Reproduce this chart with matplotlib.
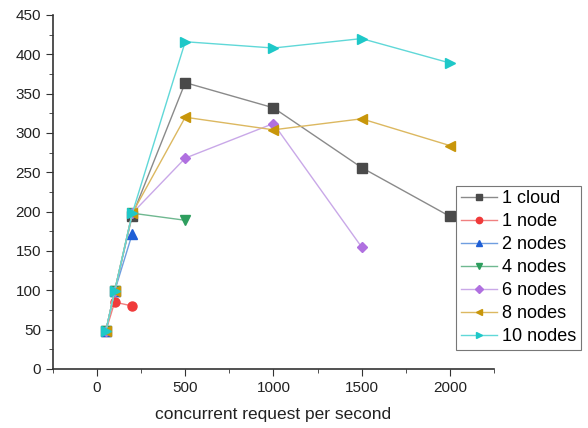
import matplotlib
matplotlib.use('Agg')
import matplotlib.pyplot as plt
from matplotlib.ticker import MultipleLocator

plt.rcParams['font.family'] = ['Liberation Sans', 'DejaVu Sans']

# Data
x_all = [50, 100, 200, 500, 1000, 1500, 2000]
cloud1 = [48, 99, 195, 364, 332, 256, 194]
node1 = [48, 85, 80]
nodes2 = [48, 99, 172]
nodes4 = [48, 99, 198, 189]
nodes6 = [48, 99, 198, 268, 312, 155]
nodes8 = [48, 99, 198, 320, 304, 318, 284]
nodes10 = [48, 99, 198, 416, 408, 420, 389]

series = [
    ('1 cloud', cloud1, 's', '#4a4a4a', '#8a8a8a'),
    ('1 node', node1, 'o', '#f03a3a', '#f08080'),
    ('2 nodes', nodes2, '^', '#1f5fd6', '#6f9ee0'),
    ('4 nodes', nodes4, 'v', '#2e9e5e', '#6fb890'),
    ('6 nodes', nodes6, 'D', '#b070e0', '#c9a8e8'),
    ('8 nodes', nodes8, '<', '#c8960a', '#dcb860'),
    ('10 nodes', nodes10, '>', '#1ec8c8', '#60d8d8'),
]

fig = plt.figure(figsize=(5.88, 4.28), dpi=100)
ax = fig.add_axes([0.090, 0.138, 0.750, 0.827])

handles = []
for label, ys, mk, mc, lc in series:
    ms = 5.5 if mk == 'D' else 6.5
    h, = ax.plot(x_all[:len(ys)], ys, color=lc, lw=1.0, marker=mk,
                 markersize=ms, markerfacecolor=mc, markeredgecolor=mc,
                 label=label)
    handles.append(h)

ax.set_xlim(-250, 2250)
ax.set_ylim(0, 450)
ax.xaxis.set_major_locator(MultipleLocator(500))
ax.xaxis.set_minor_locator(MultipleLocator(250))
ax.yaxis.set_major_locator(MultipleLocator(50))
ax.yaxis.set_minor_locator(MultipleLocator(25))
ax.spines['top'].set_visible(False)
ax.spines['right'].set_visible(False)
for s in ('left', 'bottom'):
    ax.spines[s].set_color('#333333')
    ax.spines[s].set_linewidth(1.2)
ax.tick_params(which='major', length=5, labelsize=11, colors='#333333', labelcolor='#222222')
ax.tick_params(which='minor', length=3, colors='#333333')
ax.set_xlabel('concurrent request per second', fontsize=12.5, color='#222222', labelpad=9)

leg = fig.legend(handles=handles, loc='upper left', bbox_to_anchor=(0.776, 0.566),
                 fontsize=13, frameon=True, fancybox=False, edgecolor='#555555',
                 handlelength=2.0, handletextpad=0.3, labelspacing=0.33,
                 borderpad=0.25, borderaxespad=0, markerscale=0.7)
leg.get_frame().set_linewidth(0.8)

fig.savefig('out.png', dpi=100)
